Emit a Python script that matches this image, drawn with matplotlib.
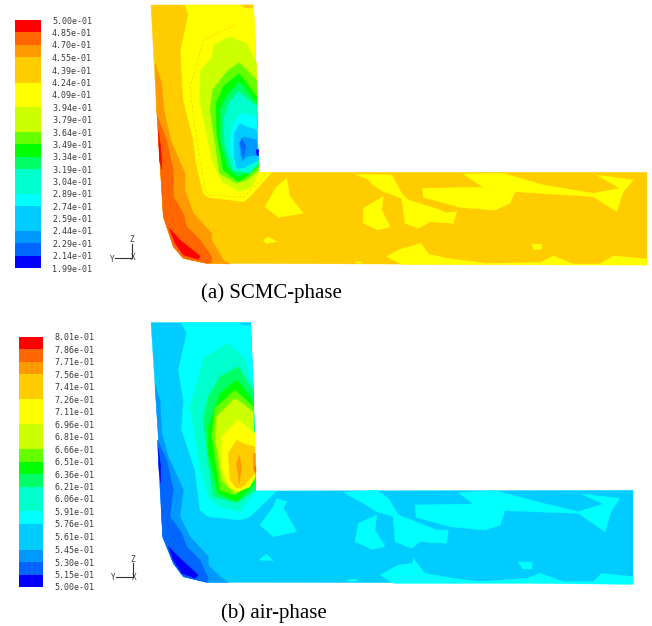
"""Two Fluent style contour plots of phase fraction in a pipe bend."""

import matplotlib
matplotlib.use("Agg")
import matplotlib.pyplot as plt
import numpy as np
from matplotlib.colors import ListedColormap

W, H = 652, 626

# colour bands, bottom to top
BANDS = ["#0000ff", "#0066ff", "#0099ff", "#00ccff", "#00ccff", "#00ffff", "#00ffcc", "#00ffcc",
         "#00ff66", "#00ff00", "#66ff00", "#ccff00", "#ccff00", "#ffff00", "#ffff00", "#ffcc00",
         "#ffcc00", "#ff9900", "#ff6600", "#ff0000"]

levels_a = [0.199, 0.214, 0.229, 0.244, 0.259, 0.274, 0.289, 0.304, 0.319, 0.334, 0.349,
            0.364, 0.379, 0.394, 0.409, 0.424, 0.439, 0.455, 0.470, 0.485, 0.500]
levels_b = [0.500, 0.515, 0.530, 0.545, 0.561, 0.576, 0.591, 0.606, 0.621, 0.636, 0.651,
            0.666, 0.681, 0.696, 0.711, 0.726, 0.741, 0.756, 0.771, 0.786, 0.801]

# region outlines, in 3x crop units
# (a) bend part, crop origin (140, 0)
a_shape = [(33, 15), (340, 15), (345, 100), (355, 517), (1521, 517), (1521, 795), (200, 790),
           (130, 775), (100, 740), (70, 650), (50, 330)]
a_bend = [
    ("#ffff00", [(135, 15), (145, 45), (122, 150), (130, 300), (160, 420), (168, 490), (190, 580),
                 (205, 592), (310, 605), (330, 590), (395, 517), (355, 517), (345, 100), (340, 15)]),
    ("#ffcc00", [(303, 15), (340, 15), (340, 25), (315, 25)]),
    ("#ff9900", [(45, 190), (65, 250), (72, 330), (92, 420), (135, 520), (135, 570), (160, 640),
                 (215, 700), (215, 720), (250, 780), (270, 792), (200, 790), (130, 775),
                 (100, 740), (70, 650), (50, 330)]),
    ("#ff6600", [(52, 350), (80, 420), (100, 510), (100, 590), (130, 640), (140, 680), (180, 720),
                 (215, 770), (215, 788), (200, 790), (130, 775), (100, 740), (70, 650)]),
    ("#ff0000", [(55, 390), (62, 440), (66, 510), (58, 480)]),
    ("#ff0000", [(88, 685), (120, 720), (180, 768), (175, 778), (130, 765), (105, 730)]),
    ("#ccff00", [(270, 110), (222, 135), (215, 175), (182, 210), (178, 300), (200, 400), (215, 480),
                 (245, 545), (300, 575), (335, 560), (355, 517), (350, 190), (320, 130)]),
    ("#66ff00", [(297, 188), (260, 215), (218, 270), (210, 330), (225, 430), (238, 520), (290, 550),
                 (320, 540), (355, 512), (350, 240)]),
    ("#00ff00", [(297, 220), (250, 260), (228, 310), (230, 400), (250, 510), (295, 545), (312, 535),
                 (355, 500), (350, 290), (320, 250)]),
    ("#00ff66", [(298, 245), (258, 290), (240, 330), (240, 420), (262, 500), (292, 530), (355, 500),
                 (350, 310)]),
    ("#00ffcc", [(295, 275), (265, 310), (250, 360), (255, 440), (278, 512), (330, 520), (355, 490),
                 (350, 320)]),
    ("#00ffff", [(300, 340), (275, 380), (270, 440), (285, 500), (310, 510), (355, 475), (350, 350)]),
    ("#00ccff", [(300, 370), (282, 400), (282, 470), (290, 505), (310, 505), (355, 480), (350, 390),
                 (320, 380)]),
    ("#0099ff", [(310, 410), (298, 430), (305, 485), (320, 470), (352, 465), (350, 420)]),
    ("#0066ff", [(305, 415), (300, 430), (310, 475), (318, 440)]),
    ("#0000ff", [(348, 450), (356, 448), (356, 468), (350, 465)]),
    ("#ffff00", [(440, 535), (410, 560), (375, 620), (415, 652), (490, 640), (450, 590)]),
    ("#ffff00", [(370, 722), (385, 710), (410, 725), (380, 730)]),
]
a_thin_line = [(285, 75), (190, 120), (180, 160), (150, 260), (160, 350), (195, 570), (205, 585),
               (310, 592), (380, 520)]

# (a) channel yellow patches, crop origin (330, 160)
a_channel = [
    [(75, 43), (185, 45), (215, 100), (235, 120), (330, 150), (345, 158), (380, 155), (370, 190),
     (300, 185), (265, 205), (225, 190), (215, 115), (175, 100), (160, 95), (130, 75), (110, 55)],
    [(160, 110), (155, 150), (180, 200), (145, 210), (100, 190), (100, 145)],
    [(278, 85), (460, 82), (400, 42), (520, 40), (640, 75), (790, 100), (870, 85), (800, 45),
     (910, 60), (880, 95), (860, 155), (790, 110), (555, 95), (540, 130), (495, 150), (390, 142),
     (280, 112)],
    [(170, 290), (205, 270), (272, 250), (295, 282), (350, 295), (470, 310), (630, 308), (670, 288),
     (730, 312), (810, 312), (850, 288), (950, 297), (950, 315), (720, 315), (300, 313), (215, 313)],
    [(605, 252), (635, 253), (635, 267), (612, 268)],
    [(75, 305), (95, 305), (95, 310), (78, 310)],
]

# (b) bend part, crop origin (140, 320)
b_shape = [(33, 8), (332, 8), (340, 200), (347, 513), (1479, 511), (1479, 789), (200, 787),
           (130, 770), (100, 730), (68, 650), (55, 350)]
b_bend = [
    ("#00ffff", [(125, 8), (140, 40), (115, 150), (130, 240), (125, 330), (165, 450), (180, 570),
                 (205, 590), (300, 600), (330, 590), (410, 513), (347, 513), (340, 200), (332, 8)]),
    ("#00ccff", [(300, 8), (332, 8), (332, 15), (310, 15)]),
    ("#0099ff", [(45, 195), (60, 240), (65, 340), (85, 410), (130, 510), (120, 590), (150, 650),
                 (205, 710), (205, 735), (240, 770), (265, 788), (200, 787), (130, 770), (100, 730),
                 (68, 650), (55, 350)]),
    ("#0066ff", [(52, 360), (80, 420), (100, 510), (90, 590), (125, 640), (140, 680), (180, 720),
                 (205, 775), (200, 787), (130, 770), (100, 730), (68, 650)]),
    ("#0000ff", [(55, 385), (62, 440), (62, 490), (57, 450)]),
    ("#0000ff", [(85, 680), (120, 715), (175, 765), (165, 775), (125, 760), (100, 720)]),
    ("#00ffcc", [(265, 70), (190, 115), (180, 160), (150, 260), (165, 350), (180, 440), (205, 530),
                 (235, 560), (300, 575), (347, 513), (340, 200), (310, 110)]),
    ("#00ff66", [(295, 140), (240, 170), (205, 230), (190, 300), (205, 430), (220, 530), (290, 548),
                 (347, 510), (340, 215)]),
    ("#00ff00", [(290, 180), (240, 220), (205, 320), (205, 400), (235, 520), (290, 545), (345, 490),
                 (340, 250), (320, 215)]),
    ("#66ff00", [(285, 210), (225, 265), (215, 350), (240, 510), (285, 525), (345, 480), (340, 260)]),
    ("#ccff00", [(285, 235), (230, 290), (225, 350), (245, 480), (285, 520), (345, 470), (340, 275)]),
    ("#ffff00", [(295, 300), (245, 350), (245, 440), (265, 500), (295, 515), (330, 500), (345, 470),
                 (345, 340)]),
    ("#ffcc00", [(290, 360), (265, 400), (270, 480), (290, 505), (310, 500), (345, 460), (345, 380),
                 (320, 375)]),
    ("#ff9900", [(298, 405), (290, 430), (298, 490), (305, 440)]),
    ("#ff9900", [(340, 400), (346, 400), (346, 460), (340, 450)]),
    ("#ff6600", [(342, 440), (347, 440), (347, 460)]),
    ("#00ffff", [(410, 535), (440, 545), (430, 565), (470, 635), (400, 650), (360, 615), (400, 560)]),
    ("#00ffff", [(358, 720), (378, 702), (400, 722)]),
]

# (b) channel cyan patches, crop origin (330, 480)
b_channel = [
    [(40, 37), (140, 30), (175, 55), (205, 105), (320, 150), (355, 150), (350, 190), (270, 185),
     (245, 205), (195, 185), (190, 110), (140, 95), (100, 70)],
    [(140, 105), (135, 150), (165, 200), (125, 208), (75, 185), (85, 130)],
    [(255, 75), (430, 72), (385, 38), (495, 32), (640, 70), (745, 95), (820, 72), (755, 42),
     (870, 55), (845, 90), (825, 155), (745, 100), (525, 92), (510, 135), (465, 150), (360, 140),
     (258, 112)],
    [(150, 285), (205, 255), (248, 250), (250, 235), (285, 280), (370, 295), (450, 305), (590, 295),
     (630, 280), (700, 305), (790, 305), (815, 280), (910, 290), (910, 313), (600, 310), (190, 310)],
    [(565, 245), (605, 245), (605, 268), (578, 268)],
    [(50, 300), (80, 297), (80, 303), (60, 305)],
]


def crop(pts, x0, y0):
    """Crop units to figure pixels."""
    pts = np.array(pts, dtype=float)
    return x0 + pts[:, 0] / 3, y0 + pts[:, 1] / 3


def fill(ax, pts, x0, y0, color):
    xs, ys = crop(pts, x0, y0)
    ax.fill(xs, ys, color=color, linewidth=0.3, zorder=2)


def legend(fig, levels, left, right, top, bottom):
    ax = fig.add_axes([left / W, 1 - bottom / H, (right - left) / W, (bottom - top) / H])
    vals = np.array(levels)
    ax.pcolormesh([0, 1], vals, np.arange(len(BANDS)).reshape(-1, 1),
                  cmap=ListedColormap(BANDS), shading="flat")
    ax.set_ylim(vals[0], vals[-1])
    ax.set_xticks([])
    ax.yaxis.tick_right()
    ax.set_yticks(vals)
    ax.set_yticklabels([f"{v:.2e}" for v in vals], family="DejaVu Sans Mono", fontsize=6.0, color="#3a3a3a")
    ax.tick_params(axis="y", length=0, pad=right_pad(left, right))
    for s in ax.spines.values():
        s.set_visible(False)


def right_pad(left, right):
    # label column starts about 11 px right of the swatch
    return 11 * 72 / 100


def triad(ax, x, y):
    ax.plot([x - 17, x, x], [y, y, y - 14], color="#333333", lw=0.8, zorder=3)
    for txt, tx, ty in [("Z", x, y - 18), ("Y", x - 20, y + 1), ("X", x + 1, y)]:
        ax.text(tx, ty, txt, family="DejaVu Sans Mono", fontsize=5.5, color="#333333",
                ha="center", va="center")


fig = plt.figure(figsize=(W / 100, H / 100), dpi=100, facecolor="white")
ax = fig.add_axes([0, 0, 1, 1])
ax.set_xlim(0, W)
ax.set_ylim(H, 0)
ax.axis("off")

# panel (a)
fill(ax, a_shape, 140, 0, "#ffcc00")
for color, pts in a_bend:
    fill(ax, pts, 140, 0, color)
for pts in a_channel:
    fill(ax, pts, 330, 160, "#ffff00")
xs, ys = crop(a_thin_line, 140, 0)
ax.plot(xs, ys, color="#ffcc00", lw=0.5, ls=(0, (4, 3)), zorder=2)

# panel (b)
fill(ax, b_shape, 140, 320, "#00ccff")
for color, pts in b_bend:
    fill(ax, pts, 140, 320, color)
for pts in b_channel:
    fill(ax, pts, 330, 480, "#00ffff")

legend(fig, levels_a, 15, 41, 20, 268)
legend(fig, levels_b, 19, 43, 337, 587)
triad(ax, 132, 258)
triad(ax, 133, 577)

ax.text(201, 293, "(a) SCMC-phase", family="Liberation Serif", fontsize=15, ha="left", va="center")
ax.text(221, 613, "(b) air-phase", family="Liberation Serif", fontsize=15, ha="left", va="center")

fig.savefig("out.png", dpi=100, facecolor="white")
